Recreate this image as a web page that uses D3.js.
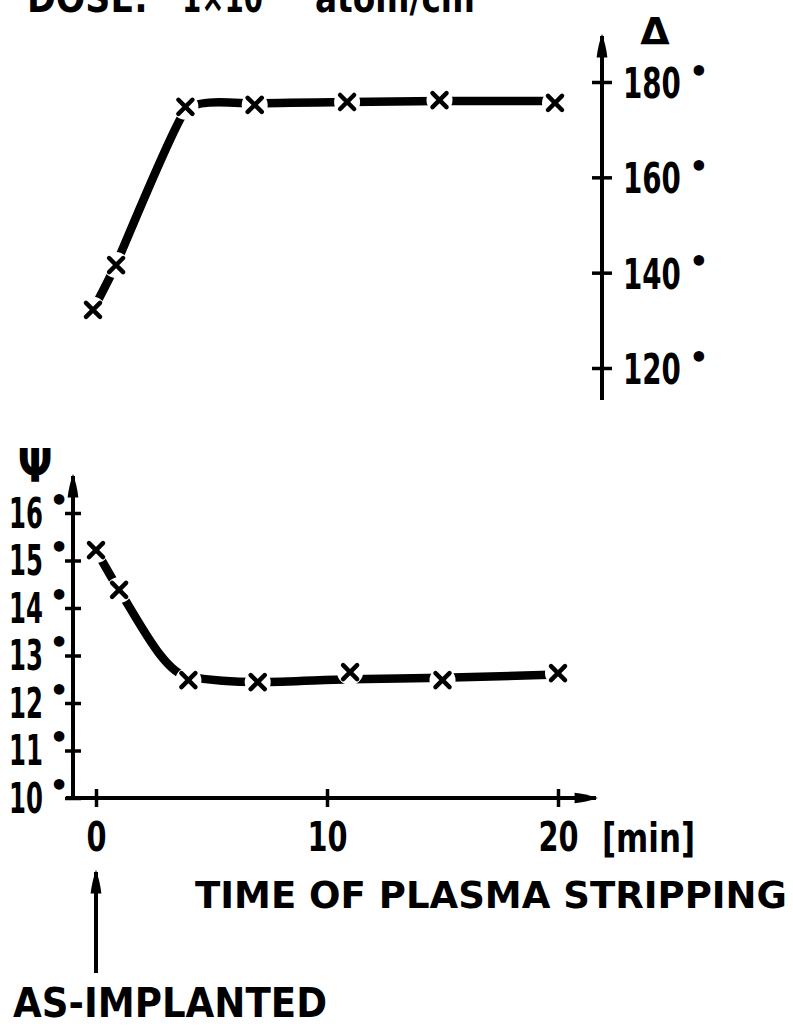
<!DOCTYPE html>
<html>
<head>
<meta charset="utf-8">
<script src="https://cdn.jsdelivr.net/npm/d3@7"></script>
<style>
  body { margin: 0; background: #fff; }
  svg text { font-family: "DejaVu Sans", sans-serif; font-weight: bold; fill: #000; }
</style>
</head>
<body>
<div id="chart"></div>
<script>
// values
var times = [0, 1, 4, 7, 11, 15, 20];
var deltaPoints = [132.2, 141.6, 174.8, 175.2, 175.8, 176.2, 175.6];
var deltaCurve = [132.2, 141.8, 174.0, 175.5, 175.8, 176.0, 176.0];
var psiPoints = [15.22, 14.38, 12.48, 12.44, 12.65, 12.48, 12.63];
var psiCurve = [15.22, 14.38, 12.55, 12.44, 12.5, 12.53, 12.6];
var deltaTicks = [120, 140, 160, 180];
var psiTicks = [10, 11, 12, 13, 14, 15, 16];
var timeTicks = [0, 10, 20];

var width = 793, height = 1028;

var svg = d3.select("#chart")
	.append("svg")
		.attr("width", width)
		.attr("height", height);

// arrowhead used on every axis
svg.append("defs").append("marker")
	.attr("id", "arrow")
	.attr("viewBox", "0 0 22 14")
	.attr("refX", 20)
	.attr("refY", 7)
	.attr("markerUnits", "userSpaceOnUse")
	.attr("markerWidth", 24)
	.attr("markerHeight", 15)
	.attr("orient", "auto")
	.append("path")
		.attr("d", "M0,2 Q10,3 22,7 Q10,11 0,12 Z")
		.attr("fill", "#000");

// the scan uses a narrow lettering, squeeze the text to match
function condense(sel, k) {
	sel.each(function(){
		var w = this.getComputedTextLength();
		d3.select(this)
			.attr("textLength", w * k)
			.attr("lengthAdjust", "spacingAndGlyphs");
	});
}

// scales
var xTop = d3.scaleLinear().domain([0, 20]).range([93, 555]);
var x = d3.scaleLinear().domain([0, 20]).range([96, 558]);
var yDelta = d3.scaleLinear().domain([120, 180]).range([368, 82]);
var yPsi = d3.scaleLinear().domain([10, 16]).range([798, 513]);

// title, cut at the top edge of the scan
var title = svg.append("g")
	.attr("font-size", "40px");
title.append("text").attr("x", 27).attr("y", 12)
	.attr("textLength", 121).attr("lengthAdjust", "spacingAndGlyphs")
	.text("DOSE:");
title.append("text").attr("x", 182).attr("y", 12)
	.attr("textLength", 81).attr("lengthAdjust", "spacingAndGlyphs")
	.text("1×10");
title.append("text").attr("x", 315).attr("y", 12)
	.attr("textLength", 160).attr("lengthAdjust", "spacingAndGlyphs")
	.text("atom/cm");

// ---- top panel: delta ----
var deltaAxis = d3.axisRight(yDelta)
	.tickValues(deltaTicks)
	.tickFormat(d3.format("d"))
	.tickSize(0)
	.tickPadding(21);

var gDelta = svg.append("g")
	.attr("transform", "translate(602,0)")
	.call(deltaAxis);
gDelta.select(".domain").remove();
gDelta.attr("font-family", null).attr("font-size", null);
gDelta.selectAll(".tick line")
	.attr("x1", -10).attr("x2", 10)
	.attr("stroke", "#000").attr("stroke-width", 3.5);
gDelta.selectAll(".tick text")
	.attr("font-size", "42px")
	.attr("dy", "0.37em")
	.call(condense, 0.66);
gDelta.selectAll(".tick").each(function(){
	var t = d3.select(this).select("text");
	d3.select(this).append("text")
		.attr("x", 21 + (+t.attr("textLength")) + 18)
		.attr("y", -1)
		.attr("text-anchor", "middle")
		.attr("font-size", "30px")
		.text("•");
});

svg.append("line")
	.attr("x1", 602).attr("y1", 400)
	.attr("x2", 602).attr("y2", 36)
	.attr("stroke", "#000").attr("stroke-width", 4)
	.attr("marker-end", "url(#arrow)");

svg.append("text")
	.attr("x", 655)
	.attr("y", 44)
	.attr("text-anchor", "middle")
	.attr("font-size", "38px")
	.attr("font-weight", "normal")
	.text("Δ");

// ---- bottom panel: psi ----
var psiAxis = d3.axisLeft(yPsi)
	.tickValues(psiTicks)
	.tickFormat(d3.format("d"))
	.tickSize(0)
	.tickPadding(30);

var gPsi = svg.append("g")
	.attr("transform", "translate(73,0)")
	.call(psiAxis);
gPsi.select(".domain").remove();
gPsi.attr("font-family", null).attr("font-size", null);
gPsi.selectAll(".tick line")
	.attr("x1", -8).attr("x2", 8)
	.attr("stroke", "#000").attr("stroke-width", 3.5);
gPsi.selectAll(".tick text")
	.attr("font-size", "42px")
	.attr("dy", "0.34em")
	.call(condense, 0.58);
gPsi.selectAll(".tick")
	.append("text")
		.attr("x", -14)
		.attr("y", -3)
		.attr("text-anchor", "middle")
		.attr("font-size", "30px")
		.text("•");

svg.append("line")
	.attr("x1", 73).attr("y1", 800)
	.attr("x2", 73).attr("y2", 476)
	.attr("stroke", "#000").attr("stroke-width", 4)
	.attr("marker-end", "url(#arrow)");

svg.append("text")
	.attr("x", 35)
	.attr("y", 482)
	.attr("text-anchor", "middle")
	.attr("font-size", "46px")
	.attr("font-weight", "normal")
	.text("Ψ")
	.call(condense, 0.9);

// time axis
var timeAxis = d3.axisBottom(x)
	.tickValues(timeTicks)
	.tickFormat(d3.format("d"))
	.tickSize(0)
	.tickPadding(25);

var gTime = svg.append("g")
	.attr("transform", "translate(0,798)")
	.call(timeAxis);
gTime.select(".domain").remove();
gTime.attr("font-family", null).attr("font-size", null);
gTime.selectAll(".tick line")
	.attr("y1", -9).attr("y2", 9)
	.attr("stroke", "#000").attr("stroke-width", 3.5);
gTime.selectAll(".tick text")
	.attr("font-size", "40px")
	.attr("dy", "0.71em")
	.call(condense, 0.72);

svg.append("line")
	.attr("x1", 66).attr("y1", 798)
	.attr("x2", 596).attr("y2", 798)
	.attr("stroke", "#000").attr("stroke-width", 4)
	.attr("marker-end", "url(#arrow)");

svg.append("text")
	.attr("x", 602)
	.attr("y", 852)
	.attr("font-size", "40px")
	.attr("textLength", 93)
	.attr("lengthAdjust", "spacingAndGlyphs")
	.text("[min]");

svg.append("text")
	.attr("x", 195)
	.attr("y", 908)
	.attr("font-size", "37px")
	.attr("textLength", 592)
	.attr("lengthAdjust", "spacingAndGlyphs")
	.text("TIME OF PLASMA STRIPPING");

// as-implanted pointer
svg.append("line")
	.attr("x1", x(0)).attr("y1", 973)
	.attr("x2", x(0)).attr("y2", 872)
	.attr("stroke", "#000").attr("stroke-width", 4)
	.attr("marker-end", "url(#arrow)");

svg.append("text")
	.attr("x", 13)
	.attr("y", 1017)
	.attr("font-size", "40px")
	.attr("textLength", 314)
	.attr("lengthAdjust", "spacingAndGlyphs")
	.text("AS-IMPLANTED");

// ---- data curves with gaps at the crosses ----
var marker = d3.symbol().type(d3.symbolTimes).size(130);

function drawSeries(xs, ys, curveVals, pointVals, curve) {
	var line = d3.line()
		.curve(curve)
		.x(function(d, i){ return xs(times[i]); })
		.y(function(d){ return ys(d); });

	svg.append("path")
		.datum(curveVals)
		.attr("d", line)
		.attr("fill", "none")
		.attr("stroke", "#000")
		.attr("stroke-width", 8.5)
		.attr("stroke-linecap", "round");

	svg.selectAll(null)
		.data(pointVals)
		.enter()
		.append("circle")
			.attr("cx", function(d, i){ return xs(times[i]); })
			.attr("cy", function(d){ return ys(d); })
			.attr("r", 13)
			.attr("fill", "#fff");

	svg.selectAll(null)
		.data(pointVals)
		.enter()
		.append("path")
			.attr("d", marker)
			.attr("transform", function(d, i){ return "translate(" + xs(times[i]) + "," + ys(d) + ")"; })
			.attr("fill", "none")
			.attr("stroke", "#000")
			.attr("stroke-width", 4.5)
			.attr("stroke-linecap", "round");
}

drawSeries(xTop, yDelta, deltaCurve, deltaPoints, d3.curveCardinal.tension(0.5));
drawSeries(x, yPsi, psiCurve, psiPoints, d3.curveMonotoneX);
</script>
</body>
</html>
